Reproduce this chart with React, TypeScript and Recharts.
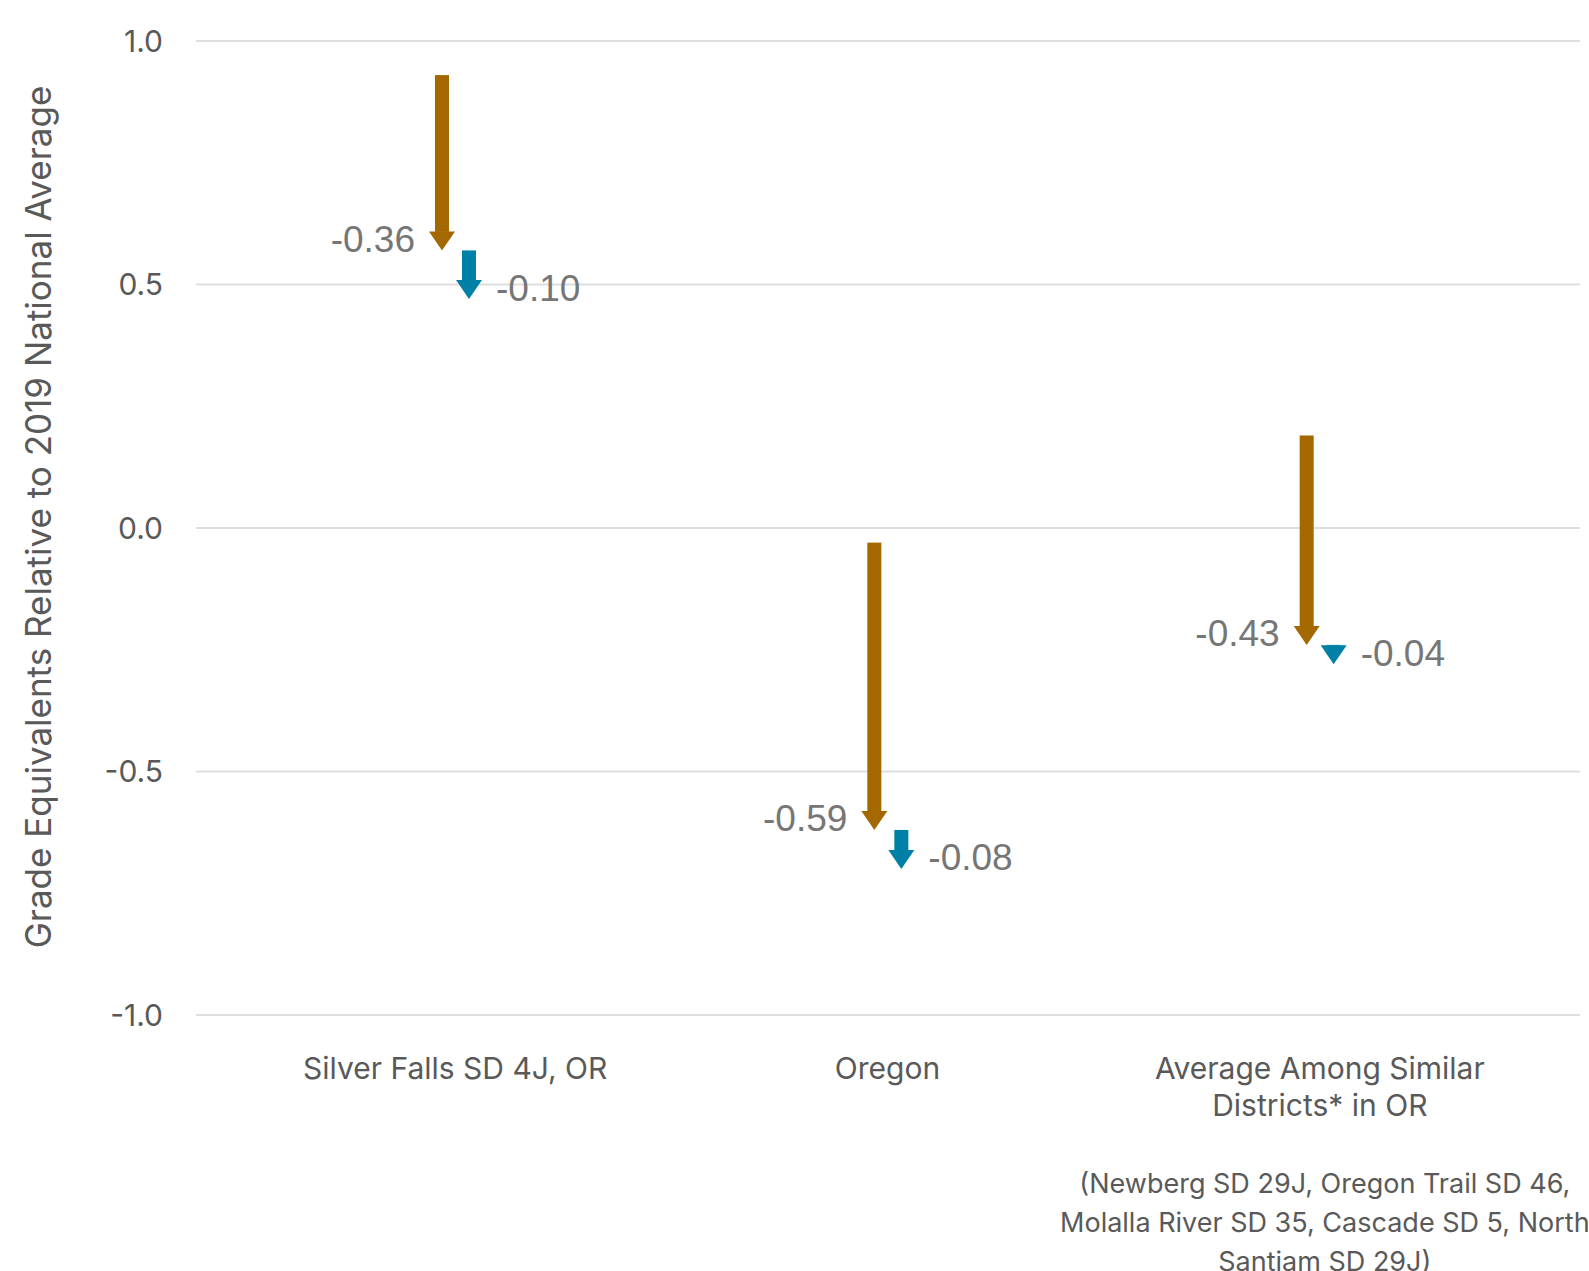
import React from "react";
import { ComposedChart, Bar, XAxis, YAxis, CartesianGrid } from "recharts";

const categories = ["Silver Falls SD 4J, OR", "Oregon", "Average Among Similar Districts* in OR"];
const categoryLines = [["Silver Falls SD 4J, OR"], ["Oregon"], ["Average Among Similar", "Districts* in OR"]];
const footnoteLines = [
  "(Newberg SD 29J, Oregon Trail SD 46,",
  "Molalla River SD 35, Cascade SD 5, North",
  "Santiam SD 29J)",
];
const firstStart = [0.93, -0.03, 0.19];
const firstEnd = [0.57, -0.62, -0.24];
const firstLabels = ["-0.36", "-0.59", "-0.43"];
const secondStart = [0.57, -0.62, -0.24];
const secondEnd = [0.47, -0.70, -0.28];
const secondLabels = ["-0.10", "-0.08", "-0.04"];
const yTicks = [-1, -0.5, 0, 0.5, 1];

const data = categories.map((name, i) => ({
  name,
  first: [firstStart[i], firstEnd[i]],
  second: [secondStart[i], secondEnd[i]],
  firstLabel: firstLabels[i],
  secondLabel: secondLabels[i],
}));

const W = 1589;
const H = 1271;
const ORANGE = "#A36800";
const BLUE = "#0080A6";
const LABEL_COLOR = "#767676";
const AXIS_COLOR = "#595959";

function makeArrow(color: string, labelKey: string, side: "left" | "right") {
  return (props: any) => {
    const { x, y, width, height, payload } = props;
    if (x == null || y == null) return null;
    const top = Math.min(y, y + height);
    const bot = Math.max(y, y + height);
    const cx = x + width / 2;
    const shaftW = 14;
    const headW = 26;
    const headH = Math.min(19, bot - top);
    const headTop = bot - headH;
    const label = payload ? payload[labelKey] : "";
    return (
      <g>
        {headTop > top && (
          <rect x={cx - shaftW / 2} y={top} width={shaftW} height={headTop - top + 0.5} fill={color} />
        )}
        <polygon
          points={`${cx - headW / 2},${headTop} ${cx + headW / 2},${headTop} ${cx},${bot}`}
          fill={color}
        />
        <text
          x={side === "left" ? cx - 27 : cx + 27}
          y={bot - 11}
          textAnchor={side === "left" ? "end" : "start"}
          dominantBaseline="central"
          fontFamily="'Liberation Sans', Arial, sans-serif"
          fontSize={37}
          fill={LABEL_COLOR}
        >
          {label}
        </text>
      </g>
    );
  };
}

function CategoryTick(props: any) {
  const { x, y, payload } = props;
  const idx = categories.indexOf(payload.value);
  const lines = idx >= 0 ? categoryLines[idx] : [payload.value];
  return (
    <g>
      {lines.map((line, i) => (
        <text
          key={i}
          x={x}
          y={y + 51 + i * 37}
          textAnchor="middle"
          dominantBaseline="central"
          fontFamily="Inter, sans-serif"
          fontSize={30}
          fill={AXIS_COLOR}
        >
          {line}
        </text>
      ))}
      {idx === categories.length - 1 &&
        footnoteLines.map((line, i) => (
          <text
            key={"f" + i}
            x={x + 5}
            y={y + 166 + i * 39}
            textAnchor="middle"
            dominantBaseline="central"
            fontFamily="Inter, sans-serif"
            fontSize={27}
            fill={AXIS_COLOR}
          >
            {line}
          </text>
        ))}
    </g>
  );
}

function YTitle(props: any) {
  const vb = props.viewBox || { x: 0, y: 41, width: 196, height: 974 };
  const cx = vb.x + 38;
  const cy = vb.y + vb.height / 2 - 11;
  return (
    <text
      x={cx}
      y={cy}
      transform={`rotate(-90, ${cx}, ${cy})`}
      textAnchor="middle"
      dominantBaseline="central"
      fontFamily="Inter, sans-serif"
      fontSize={35}
      fill={AXIS_COLOR}
    >
      Grade Equivalents Relative to 2019 National Average
    </text>
  );
}

export default function App() {
  return (
    <div style={{ position: "absolute", left: 0, top: 0, width: W, height: H, background: "#fff" }}>
      <ComposedChart
        width={W}
        height={H}
        data={data}
        margin={{ top: 41, right: 9, bottom: 0, left: 0 }}
        barSize={26}
        barGap={1}
      >
        <CartesianGrid vertical={false} stroke="#dedede" strokeWidth={2} />
        <XAxis
          dataKey="name"
          axisLine={false}
          tickLine={false}
          tickSize={0}
          height={256}
          padding={{ left: 43, right: 44 }}
          interval={0}
          tick={<CategoryTick />}
        />
        <YAxis
          domain={[-1, 1]}
          ticks={yTicks}
          width={196}
          axisLine={false}
          tickLine={false}
          tickSize={0}
          tickMargin={33}
          tick={{ fill: AXIS_COLOR, fontSize: 30, fontFamily: "Inter, sans-serif" }}
          tickFormatter={(v: number) => v.toFixed(1)}
          label={{ content: YTitle } as any}
        />
        <Bar dataKey="first" fill={ORANGE} isAnimationActive={false} shape={makeArrow(ORANGE, "firstLabel", "left")} />
        <Bar dataKey="second" fill={BLUE} isAnimationActive={false} shape={makeArrow(BLUE, "secondLabel", "right")} />
      </ComposedChart>
    </div>
  );
}
